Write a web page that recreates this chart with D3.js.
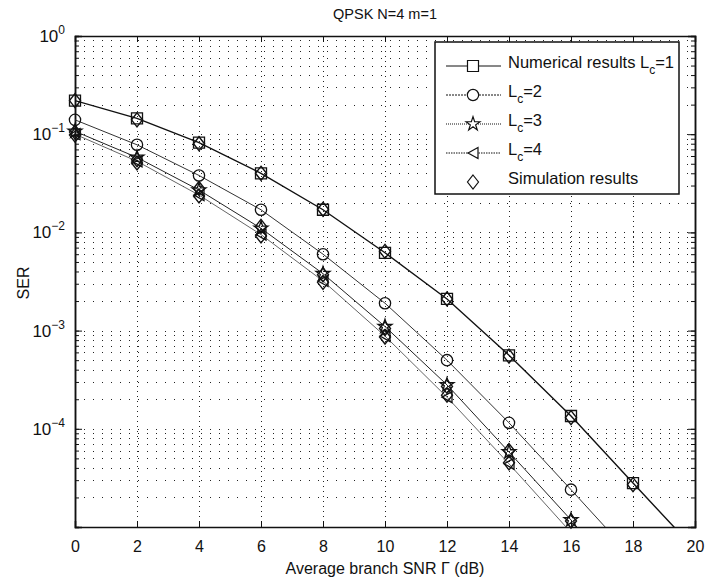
<!DOCTYPE html>
<html lang="en">
<head>
<meta charset="UTF-8">
<title>QPSK N=4 m=1</title>
<script src="https://cdn.jsdelivr.net/npm/d3@7"></script>
<style>
    body { margin: 0; background: #fff; }
    text { font-family: "Liberation Sans", Arial, sans-serif; fill: #111; }
    .grid line { stroke: #222; stroke-width: 1; }
</style>
</head>
<body>
<svg id="chart" width="710" height="580"></svg>
<script>
// SNR points (dB)
var snr = [0, 2, 4, 6, 8, 10, 12, 14, 16, 18, 20];

// numerical SER curves
var lc1 = [0.22, 0.145, 0.082, 0.040, 0.017, 0.0062, 0.0021, 0.00056, 0.000135, 2.8e-5, 5.9e-6];
var lc2 = [0.14, 0.078, 0.038, 0.017, 0.006, 0.0019, 0.0005, 0.000115, 2.4e-5, 4.9e-6];
var lc3 = [0.107, 0.058, 0.027, 0.011, 0.0038, 0.0011, 0.00028, 5.8e-5, 1.18e-5, 2.1e-6];
var lc4 = [0.100, 0.053, 0.024, 0.0095, 0.0032, 0.00088, 0.00021, 4.4e-5, 8.8e-6, 1.6e-6];

// simulation results (diamonds)
var sim1 = [0.22, 0.14, 0.080, 0.040, 0.0172, 0.0064, 0.0021, 0.00055, 0.00013, 2.7e-5];
var sim3 = [0.105, 0.055, 0.028, 0.0115, 0.0037, 0.00105, 0.00027, 6.0e-5, 1.15e-5];
var sim4 = [0.098, 0.051, 0.0235, 0.0092, 0.0031, 0.00086, 0.00022, 4.5e-5];

var xTicks = [0, 2, 4, 6, 8, 10, 12, 14, 16, 18, 20];
var yLabelExp = [0, -1, -2, -3, -4];

(function () {
    var pLeft = 75, pRight = 695, pTop = 36, pBottom = 527;
    var svg = d3.select("#chart");

    var x = d3.scaleLinear().domain([0, 20]).range([pLeft, pRight]);
    var y = d3.scaleLog().domain([1e-5, 1]).range([pBottom, pTop]);

    svg.append("defs").append("clipPath").attr("id", "plotclip")
        .append("rect").attr("x", pLeft).attr("y", pTop)
        .attr("width", pRight - pLeft).attr("height", pBottom - pTop);

    // grid
    var minor = [];
    for (var e = -5; e < 0; e++) {
        for (var m = 1; m < 10; m++) minor.push(m * Math.pow(10, e));
    }
    var grid = svg.append("g").attr("class", "grid");
    grid.selectAll("line.h").data(minor.filter(function (v) { return v > 1e-5; }))
        .enter().append("line").attr("class", "h")
        .attr("x1", pLeft).attr("x2", pRight)
        .attr("y1", function (d) { return Math.round(y(d)) + 0.5; })
        .attr("y2", function (d) { return Math.round(y(d)) + 0.5; })
        .attr("stroke-dasharray", "1,8");
    grid.selectAll("line.v").data(xTicks.slice(1, -1))
        .enter().append("line").attr("class", "v")
        .attr("y1", pTop).attr("y2", pBottom)
        .attr("x1", function (d) { return Math.round(x(d)) + 0.5; })
        .attr("x2", function (d) { return Math.round(x(d)) + 0.5; })
        .attr("stroke-dasharray", "1,4");

    // axes (ticks inside, on all four sides)
    var decades = [1, 0.1, 0.01, 0.001, 1e-4, 1e-5];
    svg.append("g").attr("transform", "translate(0," + pBottom + ")")
        .call(d3.axisBottom(x).tickValues(xTicks).tickSize(-6).tickPadding(14).tickFormat(d3.format("d")));
    svg.append("g").attr("transform", "translate(0," + pTop + ")")
        .call(d3.axisTop(x).tickValues(xTicks).tickSize(-6).tickFormat(""));
    svg.append("g").attr("transform", "translate(" + pLeft + ",0)")
        .call(d3.axisLeft(y).tickValues(minor).tickSize(-4).tickFormat(""));
    svg.append("g").attr("transform", "translate(" + pRight + ",0)")
        .call(d3.axisRight(y).tickValues(minor).tickSize(-4).tickFormat(""));
    svg.append("g").attr("transform", "translate(" + pLeft + ",0)")
        .call(d3.axisLeft(y).tickValues(decades).tickSize(-7).tickFormat(""));
    svg.append("g").attr("transform", "translate(" + pRight + ",0)")
        .call(d3.axisRight(y).tickValues(decades).tickSize(-7).tickFormat(""));
    svg.selectAll(".domain").attr("stroke", "#111").attr("stroke-width", 1.5);
    svg.selectAll(".tick line").attr("stroke", "#111");
    svg.selectAll(".tick text").style("font-size", "16px").attr("fill", "#111")
        .style("font-family", "'Liberation Sans', Arial, sans-serif");

    // y tick labels 10^n
    var yl = svg.append("g").selectAll("text").data(yLabelExp).enter().append("text")
        .attr("x", 65).attr("y", function (d) { return y(Math.pow(10, d)) + 6; })
        .attr("text-anchor", "end").style("font-size", "17px");
    yl.append("tspan").text("10");
    yl.append("tspan").attr("dy", -8).style("font-size", "12px")
        .text(function (d) { return d === 0 ? "0" : "\u2212" + (-d); });

    // series
    var series = [
        { vals: lc1, marker: "square", width: 1.4, color: "#111" },
        { vals: lc2, marker: "circle", width: 1, color: "#333" },
        { vals: lc3, marker: "star", width: 1, color: "#222" },
        { vals: lc4, marker: "tri", width: 0.9, color: "#555" }
    ];
    var sims = [sim1, sim3, sim4];

    function markerPath(type) {
        if (type === "square") return "M-5.5,-5.5H5.5V5.5H-5.5Z";
        if (type === "circle") return d3.symbol(d3.symbolCircle, 100)();
        if (type === "star") return d3.symbol(d3.symbolStar, 60)();
        if (type === "tri") return "M-5,0L5,-5.5L5,5.5Z";
        if (type === "diamond") return "M0,-7L5.5,0L0,7L-5.5,0Z";
    }

    var plot = svg.append("g").attr("clip-path", "url(#plotclip)");
    var line = d3.line()
        .x(function (d, i) { return x(snr[i]); })
        .y(function (d) { return y(d); });

    series.forEach(function (s) {
        plot.append("path").datum(s.vals)
            .attr("d", line).attr("fill", "none")
            .attr("stroke", s.color).attr("stroke-width", s.width);
    });

    function points(vals) {
        return vals.map(function (v, i) { return [snr[i], v]; })
            .filter(function (p) { return p[1] >= 1e-5; });
    }

    sims.forEach(function (vals) {
        svg.append("g").selectAll("path").data(points(vals))
            .enter().append("path")
            .attr("transform", function (p) { return "translate(" + x(p[0]) + "," + y(p[1]) + ")"; })
            .attr("d", markerPath("diamond"))
            .attr("fill", "none").attr("stroke", "#111").attr("stroke-width", 1.4);
    });

    series.forEach(function (s) {
        svg.append("g").selectAll("path").data(points(s.vals))
            .enter().append("path")
            .attr("transform", function (p) { return "translate(" + x(p[0]) + "," + y(p[1]) + ")"; })
            .attr("d", markerPath(s.marker))
            .attr("fill", "none").attr("stroke", "#111").attr("stroke-width", 1.3);
    });

    // legend
    var lg = svg.append("g");
    lg.append("rect").attr("x", 435).attr("y", 42).attr("width", 244).attr("height", 152)
        .attr("fill", "#fff").attr("stroke", "#111").attr("stroke-width", 1.5);

    var legendRows = [
        { marker: "square", dash: null, text: ["Numerical results L", "c", "=1"] },
        { marker: "circle", dash: "2,1", text: ["L", "c", "=2"] },
        { marker: "star", dash: "1,1", text: ["L", "c", "=3"] },
        { marker: "tri", dash: "1.5,1", text: ["L", "c", "=4"] },
        { marker: "diamond", dash: "none", text: ["Simulation results", "", ""] }
    ];
    legendRows.forEach(function (r, i) {
        var ly = 63 + i * 29;
        if (r.dash !== "none") {
            lg.append("line").attr("x1", 446).attr("x2", 501).attr("y1", ly + 3).attr("y2", ly + 3)
                .attr("stroke", "#111").attr("stroke-width", 1).attr("stroke-dasharray", r.dash);
        }
        lg.append("path").attr("transform", "translate(473," + (ly + 3) + ")")
            .attr("d", markerPath(r.marker)).attr("fill", "#fff")
            .attr("stroke", "#111").attr("stroke-width", 1.2);
        var t = lg.append("text").attr("x", 508).attr("y", ly + 5).style("font-size", "16.5px");
        t.append("tspan").text(r.text[0]);
        if (r.text[1]) {
            t.append("tspan").attr("dy", 6).style("font-size", "12px").text(r.text[1]);
            t.append("tspan").attr("dy", -6).text(r.text[2]);
        }
    });

    // titles
    svg.append("text").attr("x", 385).attr("y", 19).attr("text-anchor", "middle")
        .style("font-size", "14.5px").text("QPSK N=4 m=1");
    svg.append("text").attr("x", 385).attr("y", 574).attr("text-anchor", "middle")
        .style("font-size", "16px").text("Average branch SNR \u0393 (dB)");
    svg.append("text").attr("transform", "translate(29,283) rotate(-90)").attr("text-anchor", "middle")
        .style("font-size", "16px").text("SER");
})();
</script>
</body>
</html>
